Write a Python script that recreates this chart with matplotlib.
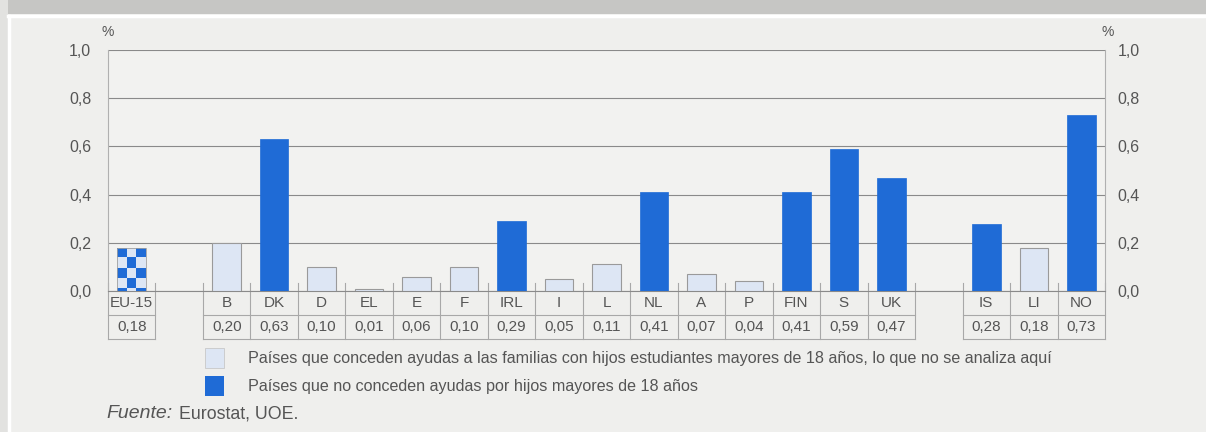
import numpy as np
import matplotlib
matplotlib.use("Agg")
import matplotlib.pyplot as plt
from matplotlib.patches import Rectangle
from matplotlib.colors import ListedColormap
from matplotlib.transforms import blended_transform_factory

plt.rcParams['font.family'] = ['Liberation Sans', 'DejaVu Sans']

categories = ['EU-15', 'B', 'DK', 'D', 'EL', 'E', 'F', 'IRL', 'I', 'L', 'NL',
              'A', 'P', 'FIN', 'S', 'UK', 'IS', 'LI', 'NO']
values = [0.18, 0.20, 0.63, 0.10, 0.01, 0.06, 0.10, 0.29, 0.05, 0.11, 0.41,
          0.07, 0.04, 0.41, 0.59, 0.47, 0.28, 0.18, 0.73]
kinds = ['avg', 'light', 'dark', 'light', 'light', 'light', 'light', 'dark', 'light',
         'light', 'dark', 'light', 'light', 'dark', 'dark', 'dark', 'dark', 'light', 'dark']
groups = ['EU15'] + ['EU'] * 15 + ['EFTA'] * 3
yticks = [0.0, 0.2, 0.4, 0.6, 0.8, 1.0]
legend_labels = ['Países que conceden ayudas a las familias con hijos estudiantes mayores de 18 años, lo que no se analiza aquí',
                 'Países que no conceden ayudas por hijos mayores de 18 años']

DARK = '#1f6bd6'
LIGHT = '#dde6f4'
TXT = '#555555'
BG = '#efefed'

# positions with one empty slot between groups
pos = []
p = 0
for i, g in enumerate(groups):
    if i > 0 and g != groups[i - 1]:
        p += 1
    pos.append(p)
    p += 1
pos = np.array(pos)

W, H = 1206, 432
fig = plt.figure(figsize=(W / 100, H / 100), dpi=100)
fig.patch.set_facecolor(BG)

# top grey strip and panel frame
fig.patches.append(Rectangle((0, 1 - 14 / H), 1, 14 / H, transform=fig.transFigure,
                             facecolor='#c6c6c4', edgecolor='none', zorder=0))
fig.patches.append(Rectangle((0, 0), 8 / W, 1, transform=fig.transFigure,
                             facecolor='#e2e2e0', edgecolor='none', zorder=0))
fig.add_artist(plt.Line2D([8 / W, 1], [1 - 16 / H] * 2, transform=fig.transFigure, color='white', lw=2.5))
fig.add_artist(plt.Line2D([9 / W] * 2, [0, 1 - 16 / H], transform=fig.transFigure, color='white', lw=2.5))

ax = fig.add_axes([108 / W, 141 / H, 997 / W, 241 / H])
ax.set_facecolor('#f2f2f0')
ax.set_xlim(-0.5, pos[-1] + 0.5)
ax.set_ylim(0, 1.0)
ax.set_yticks(yticks)
ax.yaxis.grid(True, color='#8a8a8a', lw=0.8)
ax.set_axisbelow(True)
ax.set_xticks([])
ticklabels = [f"{t:.1f}".replace('.', ',') for t in yticks]
ax.tick_params(axis='y', length=0, labelsize=11.5, labelcolor=TXT, pad=12)
ax.set_yticklabels(ticklabels)
ax2 = ax.twinx()
ax2.set_ylim(0, 1.0)
ax2.set_yticks(yticks)
ax2.set_yticklabels(ticklabels)
ax2.tick_params(axis='y', length=0, labelsize=11.5, labelcolor=TXT, pad=9)
for a in (ax, ax2):
    for s in a.spines.values():
        s.set_visible(False)
for side in ('left', 'right'):
    ax.spines[side].set_visible(True)
    ax.spines[side].set_color('#b0b0b0')
ax.spines['bottom'].set_visible(True)
ax.spines['bottom'].set_color('#8a8a8a')

bw = 0.6
sq = 0.042  # checker square height in data units
for x, v, k in zip(pos, values, kinds):
    if k == 'dark':
        ax.bar(x, v, width=bw, color=DARK, edgecolor=DARK, lw=0.5, zorder=3)
    elif k == 'light':
        ax.bar(x, v, width=bw, color=LIGHT, edgecolor='#9a9a9a', lw=0.8, zorder=3)
    else:
        bars = ax.bar(x, v, width=bw, facecolor=LIGHT, edgecolor='none', zorder=3)
        nrow = int(np.ceil(v / sq))
        checker = np.indices((nrow, 3)).sum(axis=0) % 2
        im = ax.imshow(checker, cmap=ListedColormap([DARK, LIGHT]),
                       extent=[x - bw / 2, x + bw / 2, v - nrow * sq, v],
                       aspect='auto', interpolation='nearest', zorder=3.5)
        im.set_clip_path(bars[0])
        ax.bar(x, v, width=bw, facecolor='none', edgecolor='#a0a0a0', lw=0.6, zorder=4)
ax.set_xlim(-0.5, pos[-1] + 0.5)
ax.set_ylim(0, 1.0)

# % labels
ax.text(-6 / 997, 1 + 11 / 241, '%', transform=ax.transAxes, fontsize=10, color=TXT, ha='left', va='bottom')
ax.text(1 - 3 / 997, 1 + 11 / 241, '%', transform=ax.transAxes, fontsize=10, color=TXT, ha='left', va='bottom')

# data table below axis
tr = blended_transform_factory(ax.transData, ax.transAxes)
rh = 24 / 241
lc = '#a8a8a8'
for x, c, v in zip(pos, categories, values):
    ax.text(x, -rh / 2, c, transform=tr, ha='center', va='center', fontsize=11, color=TXT, clip_on=False)
    ax.text(x, -1.5 * rh, f"{v:.2f}".replace('.', ','), transform=tr, ha='center', va='center',
            fontsize=11, color=TXT, clip_on=False)
for g in dict.fromkeys(groups):
    gx = pos[[i for i, gg in enumerate(groups) if gg == g]]
    x0, x1 = gx.min() - 0.5, gx.max() + 0.5
    for yy in (-rh, -2 * rh):
        ax.plot([x0, x1], [yy, yy], transform=tr, color=lc, lw=0.8, clip_on=False)
    for xx in np.arange(x0, x1 + 0.01, 1.0):
        ax.plot([xx, xx], [0.035, -2 * rh], transform=tr, color=lc, lw=0.8, clip_on=False)

# legend
for i, (lab, col) in enumerate(zip(legend_labels, [LIGHT, DARK])):
    yc = 358 + i * 28
    fig.patches.append(Rectangle((205 / W, 1 - (yc + 10) / H), 19 / W, 20 / H, transform=fig.transFigure,
                                 facecolor=col, edgecolor='#c8c8c8' if i == 0 else 'none', lw=0.6))
    fig.text(248 / W, 1 - yc / H, lab, fontsize=11.6, color=TXT, ha='left', va='center')

fig.text(106 / W, 1 - 414 / H, 'Fuente:', fontsize=14, style='italic', color=TXT, ha='left', va='center')
fig.text(179 / W, 1 - 414 / H, 'Eurostat, UOE.', fontsize=12.8, color=TXT, ha='left', va='center')

fig.savefig('out.png', dpi=100, facecolor=fig.get_facecolor())
